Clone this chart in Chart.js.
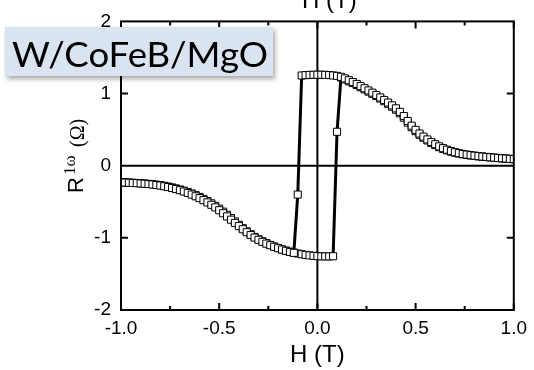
<html>

<head>
    <title>R1w vs H</title>
    <script src="https://cdn.jsdelivr.net/npm/chart.js"></script>
    <style>
        body { margin: 0; background: #fff; }
    </style>
</head>

<body>
    <canvas id="hysteresis" width="534" height="370"></canvas>
</body>
<script>
    // applied field (T), 0.02 T steps
    const fieldT = [
        -1.00, -0.98, -0.96, -0.94, -0.92, -0.90, -0.88, -0.86, -0.84, -0.82,
        -0.80, -0.78, -0.76, -0.74, -0.72, -0.70, -0.68, -0.66, -0.64, -0.62,
        -0.60, -0.58, -0.56, -0.54, -0.52, -0.50, -0.48, -0.46, -0.44, -0.42,
        -0.40, -0.38, -0.36, -0.34, -0.32, -0.30, -0.28, -0.26, -0.24, -0.22,
        -0.20, -0.18, -0.16, -0.14, -0.12, -0.10, -0.08, -0.06, -0.04, -0.02,
        0.00, 0.02, 0.04, 0.06, 0.08, 0.10, 0.12, 0.14, 0.16, 0.18,
        0.20, 0.22, 0.24, 0.26, 0.28, 0.30, 0.32, 0.34, 0.36, 0.38,
        0.40, 0.42, 0.44, 0.46, 0.48, 0.50, 0.52, 0.54, 0.56, 0.58,
        0.60, 0.62, 0.64, 0.66, 0.68, 0.70, 0.72, 0.74, 0.76, 0.78,
        0.80, 0.82, 0.84, 0.86, 0.88, 0.90, 0.92, 0.94, 0.96, 0.98,
        1.00
    ];

    // first harmonic resistance (ohm), field swept from +1 T down to -1 T
    const rSweepDown = [
        -0.232, -0.234, -0.236, -0.239, -0.242, -0.246, -0.250, -0.255, -0.260, -0.267,
        -0.275, -0.285, -0.296, -0.309, -0.324, -0.340, -0.358, -0.378, -0.400, -0.424,
        -0.450, -0.478, -0.509, -0.542, -0.578, -0.617, -0.659, -0.703, -0.748, -0.793,
        -0.837, -0.881, -0.922, -0.960, -0.996, -1.027, -1.055, -1.080, -1.103, -1.124,
        -1.144, -1.163, -1.180, -1.195, -1.208, -0.400, 1.250, 1.255, 1.258, 1.260,
        1.261, 1.261, 1.259, 1.256, 1.251, 1.245, 1.232, 1.210, 1.185, 1.160,
        1.133, 1.103, 1.073, 1.043, 1.012, 0.980, 0.946, 0.911, 0.875, 0.836,
        0.795, 0.746, 0.688, 0.620, 0.555, 0.497, 0.446, 0.403, 0.364, 0.329,
        0.298, 0.268, 0.243, 0.222, 0.203, 0.187, 0.174, 0.163, 0.154, 0.146,
        0.139, 0.133, 0.127, 0.122, 0.117, 0.112, 0.107, 0.103, 0.099, 0.095,
        0.091
    ];

    // field swept from -1 T up to +1 T
    const rSweepUp = [
        -0.230, -0.232, -0.234, -0.237, -0.240, -0.244, -0.248, -0.252, -0.257, -0.263,
        -0.270, -0.279, -0.289, -0.301, -0.315, -0.330, -0.346, -0.364, -0.385, -0.408,
        -0.433, -0.460, -0.490, -0.522, -0.557, -0.595, -0.637, -0.680, -0.726, -0.772,
        -0.818, -0.866, -0.910, -0.950, -0.988, -1.020, -1.048, -1.074, -1.098, -1.120,
        -1.141, -1.160, -1.177, -1.192, -1.205, -1.217, -1.227, -1.236, -1.243, -1.249,
        -1.253, -1.256, -1.257, -1.257, -1.255, 0.470, 1.222, 1.196, 1.170, 1.145,
        1.118, 1.088, 1.058, 1.027, 0.996, 0.965, 0.930, 0.894, 0.858, 0.818,
        0.776, 0.726, 0.666, 0.597, 0.533, 0.478, 0.428, 0.388, 0.350, 0.316,
        0.286, 0.257, 0.233, 0.213, 0.195, 0.180, 0.168, 0.158, 0.149, 0.142,
        0.136, 0.130, 0.125, 0.120, 0.115, 0.110, 0.106, 0.101, 0.097, 0.093,
        0.090
    ];

    const xMajor = [-1.0, -0.5, 0.0, 0.5, 1.0];
    const xMinor = [-0.75, -0.25, 0.25, 0.75];
    const yMajor = [-1, 1];

    const sampleName = "W/CoFeB/MgO";
    const fieldTitle = "H (T)";

    const sansFont = "'Liberation Sans', Arial, sans-serif";
    const serifFont = "'Liberation Serif', 'Times New Roman', serif";

    const toPoints = (ys) => fieldT.map((h, i) => ({ x: h, y: ys[i] }));

    function lineSet(ys) {
        return {
            data: toPoints(ys),
            showLine: true,
            borderColor: '#000',
            borderWidth: 3,
            pointRadius: 0,
            order: 2
        };
    }

    function markerSet(ys) {
        return {
            data: toPoints(ys),
            showLine: false,
            pointStyle: 'rect',
            pointRadius: 5,
            pointBackgroundColor: '#fff',
            pointBorderColor: '#000',
            pointBorderWidth: 1,
            order: 1
        };
    }

    // frame, inward ticks, zero lines, titles and the sample label
    const decorations = {
        id: 'decorations',
        beforeDatasetsDraw(chart) {
            const { ctx, chartArea: a, scales: { x, y } } = chart;
            ctx.save();
            ctx.strokeStyle = '#000';
            ctx.lineWidth = 2;
            ctx.beginPath();
            ctx.moveTo(a.left, y.getPixelForValue(0));
            ctx.lineTo(a.right, y.getPixelForValue(0));
            ctx.moveTo(x.getPixelForValue(0), a.top);
            ctx.lineTo(x.getPixelForValue(0), a.bottom);
            ctx.stroke();
            ctx.restore();
        },
        afterDatasetsDraw(chart) {
            const { ctx, chartArea: a, scales: { x, y } } = chart;
            ctx.save();
            ctx.strokeStyle = '#000';
            ctx.lineWidth = 2;
            ctx.strokeRect(a.left, a.top, a.right - a.left, a.bottom - a.top);
            ctx.beginPath();
            xMajor.forEach(v => {
                const px = x.getPixelForValue(v);
                ctx.moveTo(px, a.bottom); ctx.lineTo(px, a.bottom - 7);
                ctx.moveTo(px, a.top); ctx.lineTo(px, a.top + 7);
            });
            xMinor.forEach(v => {
                const px = x.getPixelForValue(v);
                ctx.moveTo(px, a.bottom); ctx.lineTo(px, a.bottom - 4);
                ctx.moveTo(px, a.top); ctx.lineTo(px, a.top + 4);
            });
            yMajor.forEach(v => {
                const py = y.getPixelForValue(v);
                ctx.moveTo(a.left, py); ctx.lineTo(a.left + 7, py);
                ctx.moveTo(a.right, py); ctx.lineTo(a.right - 7, py);
            });
            ctx.stroke();
            ctx.restore();
        },
        afterDraw(chart) {
            const { ctx, chartArea: a } = chart;
            const cx = (a.left + a.right) / 2;
            ctx.save();
            ctx.fillStyle = '#000';
            ctx.textAlign = 'center';
            ctx.textBaseline = 'alphabetic';
            ctx.font = `24px ${sansFont}`;
            // bottom axis title and the top one, mostly off the page
            ctx.fillText(fieldTitle, cx, 362);
            ctx.fillText(fieldTitle, cx + 12, 8);

            // y title: R^{1w} (Ohm), read bottom to top
            ctx.translate(83, 193);
            ctx.rotate(-Math.PI / 2);
            ctx.textAlign = 'left';
            ctx.font = `22px ${sansFont}`;
            ctx.fillText('R', 0, 0);
            ctx.font = `17px ${serifFont}`;
            ctx.fillText('1ω', 18, -8);
            ctx.font = `20px ${serifFont}`;
            ctx.fillText('(Ω)', 46, 1);
            ctx.restore();

            // sample label box
            ctx.save();
            ctx.shadowColor = 'rgba(0,0,0,0.35)';
            ctx.shadowBlur = 5;
            ctx.shadowOffsetX = 2;
            ctx.shadowOffsetY = 3;
            ctx.fillStyle = '#dae3f0';
            ctx.fillRect(5, 27, 268, 49);
            ctx.restore();

            ctx.save();
            ctx.fillStyle = '#000';
            ctx.font = `35px Lato, 'Open Sans', sans-serif`;
            ctx.textBaseline = 'alphabetic';
            const w = ctx.measureText(sampleName).width;
            ctx.translate(12, 67);
            ctx.scale(256 / w, 1);
            ctx.fillText(sampleName, 0, 0);
            ctx.restore();
        }
    };

    new Chart(document.getElementById('hysteresis'), {
        type: 'scatter',
        data: {
            datasets: [
                lineSet(rSweepDown),
                lineSet(rSweepUp),
                markerSet(rSweepDown),
                markerSet(rSweepUp)
            ]
        },
        options: {
            responsive: false,
            animation: false,
            events: [],
            layout: { padding: { left: 0, top: 18, right: 16, bottom: 0 } },
            plugins: {
                legend: { display: false },
                tooltip: { enabled: false }
            },
            scales: {
                x: {
                    type: 'linear',
                    min: -1,
                    max: 1,
                    grid: { display: false, drawTicks: false },
                    border: { display: false },
                    ticks: {
                        stepSize: 0.5,
                        padding: 7,
                        maxRotation: 0,
                        autoSkip: false,
                        color: '#000',
                        font: { family: sansFont, size: 19 },
                        callback: v => v.toFixed(1)
                    },
                    afterFit: s => { s.height = 60; }
                },
                y: {
                    type: 'linear',
                    min: -2,
                    max: 2,
                    grid: { display: false, drawTicks: false },
                    border: { display: false },
                    ticks: {
                        stepSize: 1,
                        padding: 10,
                        color: '#000',
                        font: { family: sansFont, size: 19 },
                        callback: v => String(v)
                    },
                    afterFit: s => { s.width = 121; }
                }
            }
        },
        plugins: [decorations]
    });
</script>

</html>
